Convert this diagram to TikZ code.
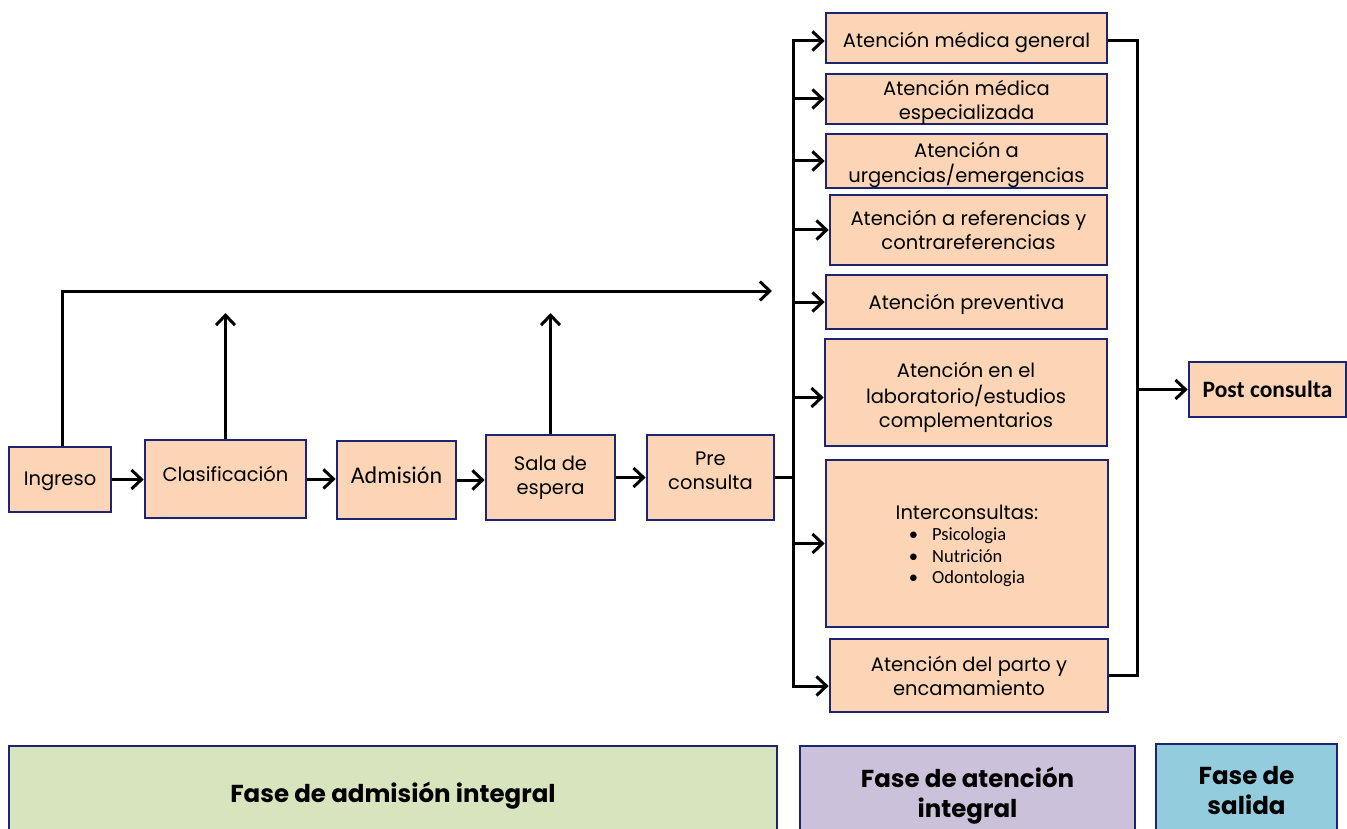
\documentclass[tikz,border=0pt]{standalone}
\usepackage{fontspec}
\setmainfont{Poppins}
\newfontfamily\carlito{Carlito}
\usetikzlibrary{arrows.meta,calc}
\definecolor{peach}{HTML}{FBD5B5}
\definecolor{navy}{HTML}{1E2470}
\definecolor{phgreen}{HTML}{D7E4BD}
\definecolor{phpurple}{HTML}{CCC1DA}
\definecolor{phblue}{HTML}{93CDDD}
\newcommand{\rs}[2]{\raisebox{#1}[\height][\depth]{\begin{tabular}{@{}c@{}}#2\end{tabular}}}
\newcommand{\rb}[2]{\raisebox{#1}[\height][\depth]{#2}}
\begin{document}
\begin{tikzpicture}[x=1pt,y=-1pt,
  box/.style={draw=navy, fill=peach, line width=2.7pt, inner sep=0pt, align=center,
    font=\fontsize{19.5}{24}\selectfont},
  phase/.style={draw=navy, line width=2.4pt, inner sep=0pt, align=center,
    font=\fontsize{24.5}{30}\selectfont\bfseries},
  ln/.style={line width=3pt, black},
  arr/.style={ln, -{Straight Barb[length=10pt,width=19pt]}}]
\clip (0,0) rectangle (1347,829);
% left flow
\node[box, minimum width=102pt, minimum height=65pt] (ing) at (60,479.5) {\rb{-2pt}{Ingreso}};
\node[box, minimum width=161pt, minimum height=78pt] (clas) at (225.5,479) {\rs{2pt}{Clasificación}};
\node[box, minimum width=119pt, minimum height=78pt, font=\carlito\fontsize{24}{24}\selectfont] (adm) at (396.5,480) {\rb{5pt}{Admisión}};
\node[box, minimum width=129pt, minimum height=85pt] (sala) at (550.5,477.5) {Sala de\\espera};
\node[box, minimum width=127pt, minimum height=85pt] (pre) at (710.5,477.5) {\rs{5pt}{Pre\\consulta}};
% right column
\node[box, minimum width=281pt, minimum height=50pt] (gen) at (966.5,38) {\rs{-5pt}{Atención médica general}};
\node[box, minimum width=281pt, minimum height=50pt] (esp) at (966.5,99) {\rs{-4pt}{Atención médica\\especializada}};
\node[box, minimum width=281pt, minimum height=54pt] (urg) at (966.5,161) {\rs{-4pt}{Atención a\\urgencias/emergencias}};
\node[box, minimum width=277pt, minimum height=70pt] (ref) at (968.5,230) {Atención a referencias y\\contrareferencias};
\node[box, minimum width=281pt, minimum height=54pt] (prev) at (966.5,302) {\rb{-2pt}{Atención preventiva}};
\node[box, minimum width=282pt, minimum height=107pt] (lab) at (966,392.5) {\rs{-5pt}{Atención en el\\laboratorio/estudios\\complementarios}};
\node[box, minimum width=282pt, minimum height=167pt] (inter) at (967,543.5) {\rs{-3pt}{Interconsultas:\\[-3pt]
  {\carlito\fontsize{18.5}{21.5}\selectfont\begin{tabular}[t]{@{}r@{\hspace{14pt}}l@{}}\textbullet&Psicologia\\ \textbullet&Nutrición\\ \textbullet&Odontologia\end{tabular}}}};
\node[box, minimum width=278pt, minimum height=73pt] (parto) at (969,675.5) {Atención del parto y\\encamamiento};
\node[box, minimum width=157pt, minimum height=55pt, font=\carlito\bfseries\fontsize{23.5}{24}\selectfont] (post) at (1267.5,389.5) {Post consulta};
% phases
\node[phase, fill=phgreen, minimum width=768pt, minimum height=94pt] (fa) at (393,793) {\rb{-3pt}{Fase de admisión integral}};
\node[phase, fill=phpurple, minimum width=335pt, minimum height=94pt] (fb) at (967.5,793) {\rs{-3pt}{Fase de atención\\integral}};
\node[phase, fill=phblue, minimum width=181pt, minimum height=92pt] (fc) at (1246.5,790) {\rs{-3pt}{Fase de\\salida}};
% connectors left
\draw[arr] (ing.east) -- (ing.east -| clas.west);
\draw[arr] (clas.east) -- (clas.east -| adm.west);
\draw[arr] (adm.east) -- (adm.east -| sala.west);
\draw[arr] (sala.east) -- (sala.east -| pre.west);
\coordinate (c1) at (62,291);
\coordinate (topend) at (772,291);
\draw[arr] (ing.north -| c1) -- (c1) -- (topend);
\coordinate (clasup) at (225.5,313);
\coordinate (salaup) at (550.5,313);
\draw[arr] (clas.north) -- (clasup);
\draw[arr] (sala.north) -- (salaup);
% left bus
\coordinate (bt) at (793,41);
\coordinate (bb) at (793,686);
\draw[ln] (pre.east) -- (pre.east -| bt);
\draw[ln, line cap=rect] (bt) -- (bb);
\draw[arr] (bt) -- (bt -| gen.west);
\draw[arr] (esp.west -| bt) -- (esp.west);
\draw[arr] (urg.west -| bt) -- (urg.west);
\draw[arr] (ref.west -| bt) -- (ref.west);
\draw[arr] (prev.west -| bt) -- (prev.west);
\draw[arr] ($(lab.west -| bt)+(0,5)$) -- ($(lab.west)+(0,5)$);
\draw[arr] (inter.west -| bt) -- (inter.west);
\draw[arr] (bb) -- (bb -| parto.west);
% right bus
\coordinate (rt) at (1137,41);
\coordinate (rb) at (parto.east -| rt);
\draw[ln] (gen.east |- rt) -- (rt) -- (rb) -- (parto.east);
\draw[arr] (post.west -| rt) -- (post.west);
\end{tikzpicture}
\end{document}
